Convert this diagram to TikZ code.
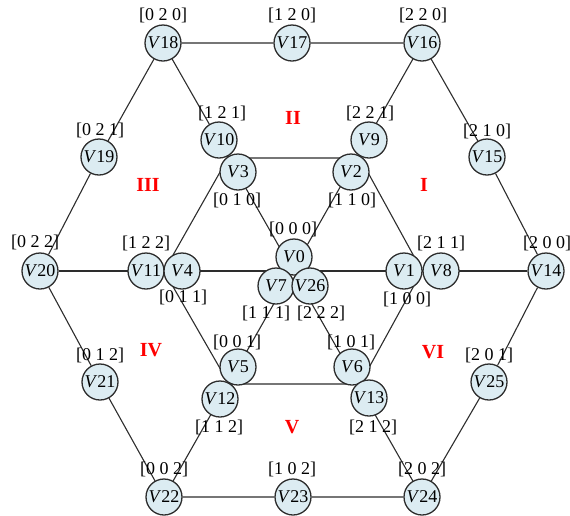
\documentclass[tikz,border=0pt]{standalone}
\usepackage{fontspec}
\setmainfont{Liberation Serif}
\usetikzlibrary{backgrounds}
\definecolor{nodefill}{RGB}{220,236,242}
\definecolor{edgecol}{RGB}{45,45,45}
\tikzset{
  vtx/.style={circle,draw=edgecol,line width=1.3pt,fill=nodefill,minimum size=36pt,inner sep=0pt,font=\fontsize{18}{20}\selectfont},
  lab/.style={inner sep=0pt,font=\fontsize{18}{20}\selectfont},
  reg/.style={inner sep=0pt,text=red,font=\fontsize{20}{22}\selectfont\bfseries},
  edge/.style={draw=edgecol,line width=1.1pt}
}
\newcommand{\vname}[1]{\textit{V}#1}
\begin{document}
\begin{tikzpicture}[x=1pt,y=-1pt]
\useasboundingbox (0,0) rectangle (570,515);
% nodes
\node[vtx] (V18) at (163,43) {\vname{18}};
\node[vtx] (V17) at (292,43) {\vname{17}};
\node[vtx] (V16) at (422,43) {\vname{16}};
\node[vtx] (V19) at (99,157) {\vname{19}};
\node[vtx] (V15) at (487,157) {\vname{15}};
\node[vtx] (V10) at (219,140) {\vname{10}};
\node[vtx] (V3) at (238,172) {\vname{3}};
\node[vtx] (V9) at (369,140) {\vname{9}};
\node[vtx] (V2) at (351,172) {\vname{2}};
\node[vtx] (V20) at (40,271) {\vname{20}};
\node[vtx] (V11) at (146,271) {\vname{11}};
\node[vtx] (V4) at (182,271) {\vname{4}};
\node[vtx] (V1) at (404,271) {\vname{1}};
\node[vtx] (V8) at (441,271) {\vname{8}};
\node[vtx] (V14) at (546,271) {\vname{14}};
\node[vtx] (V0) at (294,257) {\vname{0}};
\node[vtx] (V7) at (276,286) {\vname{7}};
\node[vtx] (V26) at (310,286) {\vname{26}};
\node[vtx] (V21) at (100,382) {\vname{21}};
\node[vtx] (V5) at (238,367) {\vname{5}};
\node[vtx] (V12) at (220,399) {\vname{12}};
\node[vtx] (V6) at (352,367) {\vname{6}};
\node[vtx] (V13) at (369,398) {\vname{13}};
\node[vtx] (V25) at (489,382) {\vname{25}};
\node[vtx] (V22) at (164,497) {\vname{22}};
\node[vtx] (V23) at (293,497) {\vname{23}};
\node[vtx] (V24) at (422,497) {\vname{24}};
% inner hexagon corner points
\coordinate (JTL) at (228,158);
\coordinate (JTR) at (360,158);
\coordinate (JR) at (422,271);
\coordinate (JBR) at (360,384);
\coordinate (JBL) at (229,384);
\coordinate (JL) at (164,271);
% edges
\begin{scope}[on background layer]
\draw[edge] (V18) -- (V17) -- (V16) -- (V15) -- (V14) -- (V25) -- (V24) -- (V23) -- (V22) -- (V21) -- (V20) -- (V19) -- (V18);
\draw[edge] (JTL) -- (JTR) -- (JR) -- (JBR) -- (JBL) -- (JL) -- cycle;
\draw[edge] (V18) -- (V24);
\draw[edge] (V16) -- (V22);
\draw[edge] (V20) -- (V14);
\end{scope}
% coordinate labels
\node[lab] (L18) at (163,15) {[0 2 0]};
\node[lab] (L17) at (292,15) {[1 2 0]};
\node[lab] (L16) at (423,15) {[2 2 0]};
\node[lab] (L19) at (100,130) {[0 2 1]};
\node[lab] (L10) at (222,113) {[1 2 1]};
\node[lab] (L9) at (370,113) {[2 2 1]};
\node[lab] (L15) at (487,131) {[2 1 0]};
\node[lab] (L3) at (237,200) {[0 1 0]};
\node[lab] (L2) at (352,200) {[1 1 0]};
\node[lab] (L0) at (293,229) {[0 0 0]};
\node[lab] (L20) at (35,242) {[0 2 2]};
\node[lab] (L11) at (146,243) {[1 2 2]};
\node[lab] (L8) at (441,243) {[2 1 1]};
\node[lab] (L14) at (547,243) {[2 0 0]};
\node[lab] (L4) at (183,297) {[0 1 1]};
\node[lab] (L1) at (407,299) {[1 0 0]};
\node[lab] (L7) at (266,313) {[1 1 1]};
\node[lab] (L26) at (321,313) {[2 2 2]};
\node[lab] (L5) at (237,342) {[0 0 1]};
\node[lab] (L6) at (351,342) {[1 0 1]};
\node[lab] (L21) at (100,355) {[0 1 2]};
\node[lab] (L25) at (489,355) {[2 0 1]};
\node[lab] (L12) at (219,427) {[1 1 2]};
\node[lab] (L13) at (373,427) {[2 1 2]};
\node[lab] (L22) at (164,469) {[0 0 2]};
\node[lab] (L23) at (292,469) {[1 0 2]};
\node[lab] (L24) at (422,469) {[2 0 2]};
% region labels
\node[reg] (RI) at (424,185) {I};
\node[reg] (RII) at (293,118) {II};
\node[reg] (RIII) at (148,185) {III};
\node[reg] (RIV) at (151,350) {IV};
\node[reg] (RV) at (292,427) {V};
\node[reg] (RVI) at (433,352) {VI};
\end{tikzpicture}
\end{document}
